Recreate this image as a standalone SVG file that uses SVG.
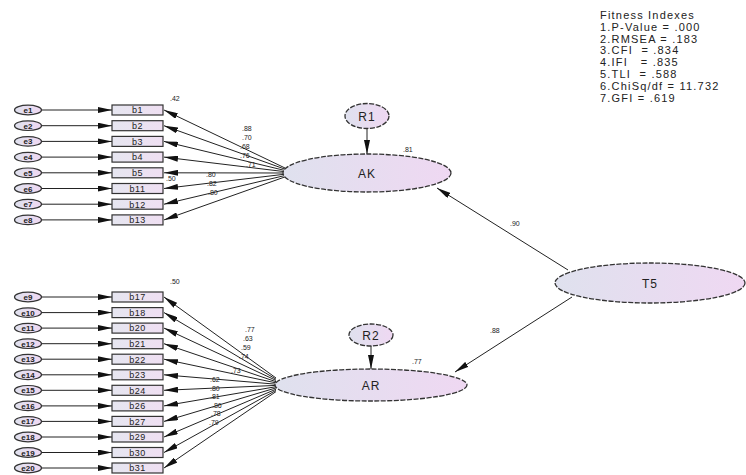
<svg xmlns="http://www.w3.org/2000/svg" width="746" height="475" viewBox="0 0 746 475">
<style>
text{font-family:"Liberation Sans",Arial,sans-serif;fill:#222}
.lat{fill:url(#g);stroke:#333;stroke-width:1.3;stroke-dasharray:5 1.5}
.err{fill:url(#g);stroke:#333;stroke-width:1.2}
.box{fill:url(#gb);stroke:#333;stroke-width:1.2}
.ln{stroke:#222;stroke-width:1;fill:none;marker-end:url(#ah)}
.bl{font-size:9px;text-anchor:middle;letter-spacing:0.5px}
.el{font-size:8px;text-anchor:middle;font-weight:bold}
.nl{font-size:12px;text-anchor:middle;letter-spacing:1px}
.v{font-size:7px}
.fi{font-size:11px;letter-spacing:1.2px;white-space:pre}
</style>
<defs>
<linearGradient id="g" x1="0" y1="0" x2="1" y2="0"><stop offset="0" stop-color="#dfe1ee"/><stop offset="1" stop-color="#efd8f2"/></linearGradient>
<linearGradient id="gb" x1="0" y1="0" x2="1" y2="0"><stop offset="0" stop-color="#e6e6f0"/><stop offset="1" stop-color="#efdff2"/></linearGradient>
<marker id="ah" viewBox="0 0 14 6" refX="14" refY="3" markerWidth="14" markerHeight="6" markerUnits="userSpaceOnUse" orient="auto"><path d="M0,0 L14,3 L0,6 z" fill="#111"/></marker>
</defs>

<g id="connectors">
<line class="ln" x1="42" y1="110" x2="112" y2="110"/>
<line class="ln" x1="42" y1="125.7" x2="112" y2="125.7"/>
<line class="ln" x1="42" y1="141.4" x2="112" y2="141.4"/>
<line class="ln" x1="42" y1="157.1" x2="112" y2="157.1"/>
<line class="ln" x1="42" y1="172.8" x2="112" y2="172.8"/>
<line class="ln" x1="42" y1="188.5" x2="112" y2="188.5"/>
<line class="ln" x1="42" y1="204.2" x2="112" y2="204.2"/>
<line class="ln" x1="42" y1="219.9" x2="112" y2="219.9"/>
<line class="ln" x1="42" y1="297" x2="112" y2="297"/>
<line class="ln" x1="42" y1="312.6" x2="112" y2="312.6"/>
<line class="ln" x1="42" y1="328.1" x2="112" y2="328.1"/>
<line class="ln" x1="42" y1="343.7" x2="112" y2="343.7"/>
<line class="ln" x1="42" y1="359.2" x2="112" y2="359.2"/>
<line class="ln" x1="42" y1="374.8" x2="112" y2="374.8"/>
<line class="ln" x1="42" y1="390.3" x2="112" y2="390.3"/>
<line class="ln" x1="42" y1="405.9" x2="112" y2="405.9"/>
<line class="ln" x1="42" y1="421.4" x2="112" y2="421.4"/>
<line class="ln" x1="42" y1="437" x2="112" y2="437"/>
<line class="ln" x1="42" y1="452.5" x2="112" y2="452.5"/>
<line class="ln" x1="42" y1="468" x2="112" y2="468"/>
<line class="ln" x1="285" y1="168" x2="164" y2="110"/>
<line class="ln" x1="285" y1="169.2" x2="164" y2="125.7"/>
<line class="ln" x1="285" y1="170.5" x2="164" y2="141.4"/>
<line class="ln" x1="285" y1="171.7" x2="164" y2="157.1"/>
<line class="ln" x1="285" y1="173" x2="164" y2="172.8"/>
<line class="ln" x1="285" y1="174.2" x2="164" y2="188.5"/>
<line class="ln" x1="285" y1="175.5" x2="164" y2="204.2"/>
<line class="ln" x1="285" y1="176.9" x2="164" y2="219.9"/>
<line class="ln" x1="276" y1="378" x2="164" y2="297"/>
<line class="ln" x1="276" y1="379.2" x2="164" y2="312.6"/>
<line class="ln" x1="276" y1="380.4" x2="164" y2="328.1"/>
<line class="ln" x1="276" y1="381.7" x2="164" y2="343.7"/>
<line class="ln" x1="276" y1="382.9" x2="164" y2="359.2"/>
<line class="ln" x1="276" y1="384.2" x2="164" y2="374.8"/>
<line class="ln" x1="276" y1="385.4" x2="164" y2="390.3"/>
<line class="ln" x1="276" y1="386.7" x2="164" y2="405.9"/>
<line class="ln" x1="276" y1="387.9" x2="164" y2="421.4"/>
<line class="ln" x1="276" y1="389.2" x2="164" y2="437"/>
<line class="ln" x1="276" y1="390.4" x2="164" y2="452.5"/>
<line class="ln" x1="276" y1="391.6" x2="164" y2="468"/>
<line class="ln" x1="367" y1="129" x2="367" y2="154"/>
<line class="ln" x1="371" y1="346" x2="371" y2="369"/>
<line class="ln" x1="568" y1="270" x2="437" y2="188"/>
<line class="ln" x1="572" y1="297" x2="455" y2="372"/>
</g>

<g id="labels">
<text class="v" x="170" y="101">.42</text>
<text class="v" x="242" y="131">.88</text>
<text class="v" x="242" y="140">.70</text>
<text class="v" x="240" y="149">.68</text>
<text class="v" x="240" y="158">.76</text>
<text class="v" x="246" y="167">.71</text>
<text class="v" x="206" y="177">.80</text>
<text class="v" x="207" y="186">.82</text>
<text class="v" x="208" y="195">.80</text>
<text class="v" x="166" y="181">.50</text>
<text class="v" x="170" y="284">.50</text>
<text class="v" x="245" y="332">.77</text>
<text class="v" x="243" y="341">.63</text>
<text class="v" x="241" y="350">.59</text>
<text class="v" x="239" y="359">.74</text>
<text class="v" x="231" y="373">.73</text>
<text class="v" x="210" y="382">.62</text>
<text class="v" x="210" y="390.5">.80</text>
<text class="v" x="210" y="399">.81</text>
<text class="v" x="212" y="407.5">.86</text>
<text class="v" x="211" y="416">.78</text>
<text class="v" x="209" y="424.5">.79</text>
<text class="v" x="403" y="152" font-size="7.5">.81</text>
<text class="v" x="412" y="364" font-size="7.5">.77</text>
<text class="v" x="510" y="226" font-size="8">.90</text>
<text class="v" x="490" y="333" font-size="8">.88</text>
</g>

<g id="errors-top">
<g id="e1"><ellipse class="err" cx="28" cy="110" rx="13.5" ry="4.8"/><text class="el" x="28" y="113">e1</text></g>
<g id="e2"><ellipse class="err" cx="28" cy="125.7" rx="13.5" ry="4.8"/><text class="el" x="28" y="128.7">e2</text></g>
<g id="e3"><ellipse class="err" cx="28" cy="141.4" rx="13.5" ry="4.8"/><text class="el" x="28" y="144.4">e3</text></g>
<g id="e4"><ellipse class="err" cx="28" cy="157.1" rx="13.5" ry="4.8"/><text class="el" x="28" y="160.1">e4</text></g>
<g id="e5"><ellipse class="err" cx="28" cy="172.8" rx="13.5" ry="4.8"/><text class="el" x="28" y="175.8">e5</text></g>
<g id="e6"><ellipse class="err" cx="28" cy="188.5" rx="13.5" ry="4.8"/><text class="el" x="28" y="191.5">e6</text></g>
<g id="e7"><ellipse class="err" cx="28" cy="204.2" rx="13.5" ry="4.8"/><text class="el" x="28" y="207.2">e7</text></g>
<g id="e8"><ellipse class="err" cx="28" cy="219.9" rx="13.5" ry="4.8"/><text class="el" x="28" y="222.9">e8</text></g>
</g>
<g id="errors-bottom">
<g id="e9"><ellipse class="err" cx="28" cy="297" rx="13.5" ry="4.8"/><text class="el" x="28" y="300">e9</text></g>
<g id="e10"><ellipse class="err" cx="28" cy="312.6" rx="13.5" ry="4.8"/><text class="el" x="28" y="315.6">e10</text></g>
<g id="e11"><ellipse class="err" cx="28" cy="328.1" rx="13.5" ry="4.8"/><text class="el" x="28" y="331.1">e11</text></g>
<g id="e12"><ellipse class="err" cx="28" cy="343.7" rx="13.5" ry="4.8"/><text class="el" x="28" y="346.7">e12</text></g>
<g id="e13"><ellipse class="err" cx="28" cy="359.2" rx="13.5" ry="4.8"/><text class="el" x="28" y="362.2">e13</text></g>
<g id="e14"><ellipse class="err" cx="28" cy="374.8" rx="13.5" ry="4.8"/><text class="el" x="28" y="377.8">e14</text></g>
<g id="e15"><ellipse class="err" cx="28" cy="390.3" rx="13.5" ry="4.8"/><text class="el" x="28" y="393.3">e15</text></g>
<g id="e16"><ellipse class="err" cx="28" cy="405.9" rx="13.5" ry="4.8"/><text class="el" x="28" y="408.9">e16</text></g>
<g id="e17"><ellipse class="err" cx="28" cy="421.4" rx="13.5" ry="4.8"/><text class="el" x="28" y="424.4">e17</text></g>
<g id="e18"><ellipse class="err" cx="28" cy="437" rx="13.5" ry="4.8"/><text class="el" x="28" y="440">e18</text></g>
<g id="e19"><ellipse class="err" cx="28" cy="452.5" rx="13.5" ry="4.8"/><text class="el" x="28" y="455.5">e19</text></g>
<g id="e20"><ellipse class="err" cx="28" cy="468" rx="13.5" ry="4.8"/><text class="el" x="28" y="471">e20</text></g>
</g>

<g id="indicators-top">
<g id="b1"><rect class="box" x="112" y="105" width="51" height="10"/><text class="bl" x="137.5" y="113.3">b1</text></g>
<g id="b2"><rect class="box" x="112" y="120.7" width="51" height="10"/><text class="bl" x="137.5" y="129">b2</text></g>
<g id="b3"><rect class="box" x="112" y="136.4" width="51" height="10"/><text class="bl" x="137.5" y="144.7">b3</text></g>
<g id="b4"><rect class="box" x="112" y="152.1" width="51" height="10"/><text class="bl" x="137.5" y="160.4">b4</text></g>
<g id="b5"><rect class="box" x="112" y="167.8" width="51" height="10"/><text class="bl" x="137.5" y="176.1">b5</text></g>
<g id="b11"><rect class="box" x="112" y="183.5" width="51" height="10"/><text class="bl" x="137.5" y="191.8">b11</text></g>
<g id="b12"><rect class="box" x="112" y="199.2" width="51" height="10"/><text class="bl" x="137.5" y="207.5">b12</text></g>
<g id="b13"><rect class="box" x="112" y="214.9" width="51" height="10"/><text class="bl" x="137.5" y="223.2">b13</text></g>
</g>
<g id="indicators-bottom">
<g id="b17"><rect class="box" x="112" y="292" width="51" height="10"/><text class="bl" x="137.5" y="300.3">b17</text></g>
<g id="b18"><rect class="box" x="112" y="307.6" width="51" height="10"/><text class="bl" x="137.5" y="315.9">b18</text></g>
<g id="b20"><rect class="box" x="112" y="323.1" width="51" height="10"/><text class="bl" x="137.5" y="331.4">b20</text></g>
<g id="b21"><rect class="box" x="112" y="338.7" width="51" height="10"/><text class="bl" x="137.5" y="347">b21</text></g>
<g id="b22"><rect class="box" x="112" y="354.2" width="51" height="10"/><text class="bl" x="137.5" y="362.5">b22</text></g>
<g id="b23"><rect class="box" x="112" y="369.8" width="51" height="10"/><text class="bl" x="137.5" y="378.1">b23</text></g>
<g id="b24"><rect class="box" x="112" y="385.3" width="51" height="10"/><text class="bl" x="137.5" y="393.6">b24</text></g>
<g id="b26"><rect class="box" x="112" y="400.9" width="51" height="10"/><text class="bl" x="137.5" y="409.2">b26</text></g>
<g id="b27"><rect class="box" x="112" y="416.4" width="51" height="10"/><text class="bl" x="137.5" y="424.7">b27</text></g>
<g id="b29"><rect class="box" x="112" y="432" width="51" height="10"/><text class="bl" x="137.5" y="440.3">b29</text></g>
<g id="b30"><rect class="box" x="112" y="447.5" width="51" height="10"/><text class="bl" x="137.5" y="455.8">b30</text></g>
<g id="b31"><rect class="box" x="112" y="463" width="51" height="10"/><text class="bl" x="137.5" y="471.3">b31</text></g>
</g>

<g id="R1"><ellipse class="lat" cx="367" cy="116" rx="22" ry="12.5"/><text class="nl" x="367" y="120.5" font-size="11">R1</text></g>
<g id="AK"><ellipse class="lat" cx="367" cy="173" rx="84" ry="19"/><text class="nl" x="367" y="177.5">AK</text></g>
<g id="R2"><ellipse class="lat" cx="371" cy="335" rx="22" ry="11"/><text class="nl" x="371" y="339.5" font-size="11">R2</text></g>
<g id="AR"><ellipse class="lat" cx="371" cy="385" rx="96" ry="16"/><text class="nl" x="371" y="389.5">AR</text></g>
<g id="T5"><ellipse class="lat" cx="650" cy="283" rx="95" ry="20"/><text class="nl" x="650" y="287.5">T5</text></g>

<g id="fitness">
<text class="fi" x="600" y="19">Fitness Indexes</text>
<text class="fi" x="600" y="30.8">1.P-Value = .000</text>
<text class="fi" x="600" y="42.6">2.RMSEA = .183</text>
<text class="fi" x="600" y="54.4">3.CFI  = .834</text>
<text class="fi" x="600" y="66.2">4.IFI   = .835</text>
<text class="fi" x="600" y="78">5.TLI  = .588</text>
<text class="fi" x="600" y="89.8">6.ChiSq/df = 11.732</text>
<text class="fi" x="600" y="101.6">7.GFI = .619</text>
</g>
</svg>
